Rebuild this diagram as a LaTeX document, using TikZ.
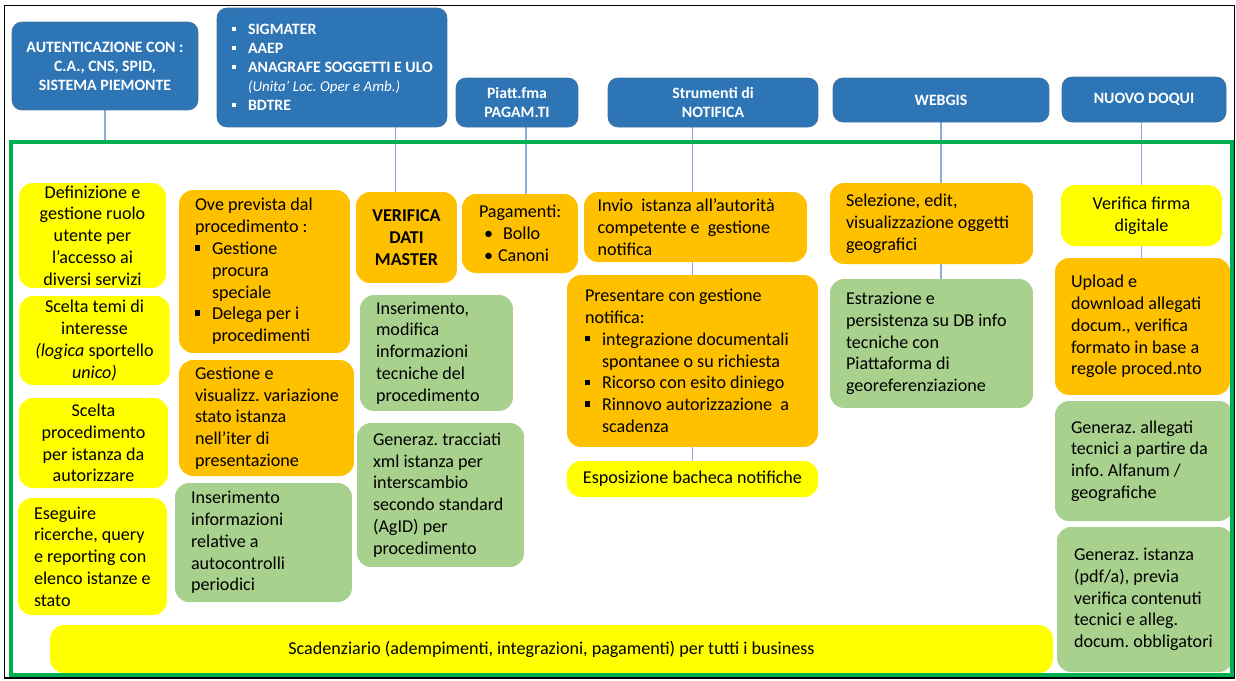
\documentclass[tikz,border=0pt]{standalone}
\usepackage{fontspec}
\setmainfont{Carlito}
\usetikzlibrary{backgrounds}
\definecolor{hdrblue}{RGB}{46,117,182}
\definecolor{hdrline}{RGB}{65,113,156}
\definecolor{ylw}{RGB}{255,255,0}
\definecolor{orng}{RGB}{255,192,0}
\definecolor{grn}{RGB}{169,209,142}
\definecolor{frmgreen}{RGB}{0,176,80}
\definecolor{linkblue}{RGB}{143,170,220}
\newcommand{\hdrfont}{\fontsize{9}{10.8}\selectfont\bfseries\frenchspacing}
\newcommand{\cellfont}{\fontsize{10.3}{12.4}\selectfont\frenchspacing}
\newcommand{\sqb}{\makebox[0.34cm][l]{\rule[0.22em]{0.3em}{0.3em}}}
\newcommand{\wsqb}{\makebox[0.32cm][l]{\color{white}\rule[0.22em]{0.26em}{0.26em}}}
\newcommand{\ind}{\hspace*{0.34cm}}

\begin{document}
\begin{tikzpicture}[x=0.02cm,y=-0.02cm,
  hdr/.style={draw=hdrline,fill=hdrblue,rounded corners=0.2cm,text=white,font=\hdrfont,align=center,inner sep=0pt},
  cell/.style={rounded corners=0.28cm,font=\cellfont,align=center,inner xsep=0.32cm,inner ysep=0pt},
  ybox/.style={cell,fill=ylw},
  obox/.style={cell,fill=orng},
  gbox/.style={cell,fill=grn},
  lft/.style={align=flush left,inner xsep=0.05cm,execute at begin node={\leftskip=#1}},
  lft/.default=0.27cm,
  link/.style={draw=linkblue,line width=0.6pt}]
\useasboundingbox (0,0) rectangle (1236,680);
\draw[line width=1pt] (4.5,5.5) rectangle (1234.5,678);
\coordinate (gNW) at (11,142);
\coordinate (gSE) at (1232,675);

% servizi esterni
\node[hdr,minimum width=3.72cm,minimum height=1.76cm] (aut) at (105,66) {AUTENTICAZIONE CON :\\C.A., CNS, SPID,\\SISTEMA PIEMONTE};
\node[hdr,lft=0.25cm,text width=4.5cm,minimum height=2.38cm] (sig) at (332,67.5)
  {\wsqb SIGMATER\\\wsqb AAEP\\\wsqb ANAGRAFE SOGGETTI E ULO\\\hspace*{0.32cm}{\mdseries\itshape\fontsize{8.5}{10.8}\selectfont (Unita’ Loc. Oper e Amb.)}\\\wsqb BDTRE};
\node[hdr,minimum width=2.44cm,minimum height=0.98cm] (pag) at (517,102.5) {Piatt.fma\\PAGAM.TI};
\node[hdr,minimum width=4.2cm,minimum height=0.98cm] (notif) at (713,102.5) {Strumenti di\\NOTIFICA};
\node[hdr,minimum width=4.32cm,minimum height=0.88cm] (webgis) at (941,100) {WEBGIS};
\node[hdr,minimum width=3.28cm,minimum height=0.9cm] (doqui) at (1144,99.5) {NUOVO DOQUI};

% colonna 1
\node[ybox,minimum width=2.94cm,minimum height=2.1cm] (ruolo) at (92.5,235.5) {Definizione e\\gestione ruolo\\utente per\\l’accesso ai\\diversi servizi};
\node[ybox,minimum width=2.94cm,minimum height=1.78cm] (temi) at (94.5,340.5) {Scelta temi di\\interesse\\\textit{(logica} sportello\\\textit{unico)}};
\node[ybox,minimum width=2.98cm,minimum height=1.8cm] (proced) at (93.5,443) {Scelta\\procedimento\\per istanza da\\autorizzare};
\node[ybox,lft,text width=2.88cm,minimum height=2.34cm] (ricerche) at (92.5,556.5) {Eseguire\\ricerche, query\\e reporting con\\elenco istanze e\\stato};

% colonna 2
\node[obox,lft,text width=3.32cm,minimum height=3.26cm] (procura) at (264.5,271.5)
  {Ove prevista dal\\procedimento :\\\sqb Gestione\\\ind procura\\\ind speciale\\\sqb Delega per i\\\ind procedimenti};
\node[obox,lft,text width=3.4cm,minimum height=2.32cm] (statoist) at (266.5,418) {Gestione e\\visualizz. variazione\\stato istanza\\nell’iter di\\presentazione};
\node[gbox,lft,text width=3.44cm,minimum height=2.38cm] (autocontr) at (263.5,542.5) {Inserimento\\informazioni\\relative a\\autocontrolli\\periodici};

% colonna 3
\node[obox,minimum width=2.02cm,minimum height=1.82cm,font=\cellfont\bfseries] (master) at (406.5,237.5) {VERIFICA\\DATI\\MASTER};
\node[obox,lft=0.29cm,text width=2.22cm,minimum height=1.58cm] (pagam) at (520,233.5)
  {Pagamenti:\\\hspace*{0.1cm}\textbullet\hspace{0.2cm}Bollo\\\hspace*{0.1cm}\textbullet\hspace{0.1cm}Canoni};
\node[gbox,lft,text width=2.96cm,minimum height=2.32cm] (infotec) at (436.5,353) {Inserimento,\\modifica\\informazioni\\tecniche del\\procedimento};
\node[gbox,lft,text width=3.24cm,minimum height=2.88cm] (xml) at (440.5,495) {Generaz. tracciati\\xml istanza per\\interscambio\\secondo standard\\(AgID) per\\procedimento};

% colonna 4
\node[obox,lft=0.22cm,text width=4.36cm,minimum height=1.4cm] (invio) at (695.5,227) {Invio~ istanza all’autorità\\competente e~ gestione\\notifica};
\node[obox,lft=0.31cm,text width=4.92cm,minimum height=3.44cm] (present) at (692.5,361)
  {Presentare con gestione\\notifica:\\\sqb integrazione documentali\\\ind spontanee o su richiesta\\\sqb Ricorso con esito diniego\\\sqb Rinnovo autorizzazione~ a\\\ind scadenza};
\node[ybox,minimum width=4.9cm,minimum height=0.72cm] (bacheca) at (692.5,479) {Esposizione bacheca notifiche};

% colonna 5
\node[obox,lft,text width=3.96cm,minimum height=1.62cm] (selgeo) at (931.5,223.5) {Selezione, edit,\\visualizzazione oggetti\\geografici};
\node[gbox,lft,text width=3.96cm,minimum height=2.58cm] (estraz) at (931.5,343.5) {Estrazione e\\persistenza su DB info\\tecniche con\\Piattaforma di\\georeferenziazione};

% colonna 6
\node[ybox,minimum width=3.22cm,minimum height=1.22cm] (firma) at (1141.5,215.5) {Verifica firma\\digitale};
\node[obox,lft,text width=3.4cm,minimum height=2.74cm] (upload) at (1142.5,326.5) {Upload e\\download allegati\\docum., verifica\\formato in base a\\regole proced.nto};
\node[gbox,lft,text width=3.46cm,minimum height=2.4cm] (allegati) at (1144,461) {Generaz. allegati\\tecnici a partire da\\info. Alfanum /\\geografiche};
\node[gbox,lft=0.29cm,text width=3.42cm,minimum height=2.9cm] (istpdf) at (1145,599.5) {Generaz. istanza\\(pdf/a), previa\\verifica contenuti\\tecnici e alleg.\\docum. obbligatori};

% scadenziario
\node[ybox,minimum width=20.06cm,minimum height=0.96cm] (scad) at (551.5,649) {Scadenziario (adempimenti, integrazioni, pagamenti) per tutti i business};

\draw[frmgreen,line width=2.8pt] (gNW) rectangle (gSE);

\begin{scope}[on background layer]
\draw[link] (aut.south) -- (aut.south |- gNW);
\draw[link] ([xshift=-0.22cm]master.north |- sig.south) -- ([xshift=-0.22cm]master.north);
\draw[link] ([xshift=0.12cm]pagam.north |- pag.south) -- ([xshift=0.12cm]pagam.north);
\draw[link] (present.north |- notif.south) -- (present.north |- bacheca.north);
\draw[link] (webgis.south) -- (webgis.south |- estraz.north);
\draw[link] (firma.north |- doqui.south) -- (firma.north |- upload.north);
\end{scope}
\end{tikzpicture}
\end{document}
